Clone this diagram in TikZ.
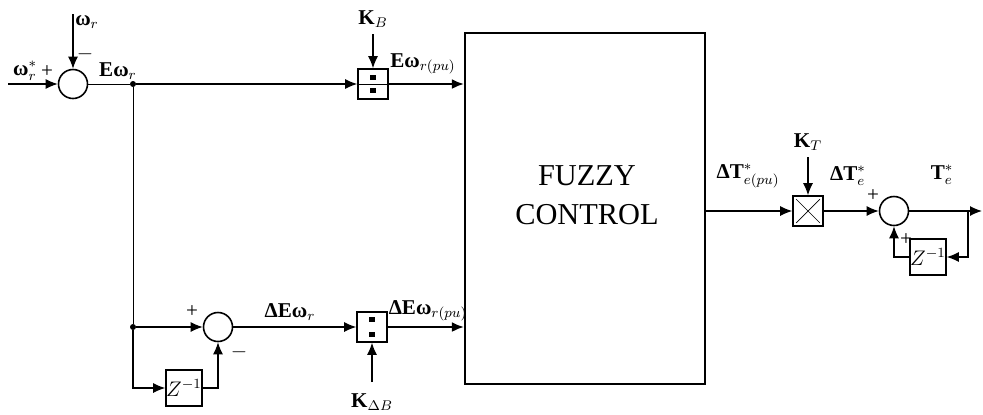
\documentclass[tikz,border=0pt]{standalone}
\usepackage{fontspec}
\setmainfont{Liberation Serif}
\usetikzlibrary{arrows.meta}

\tikzset{
  sumnode/.style={draw, circle, minimum size=0.58cm, inner sep=0pt, line width=0.9pt},
  blk/.style={draw, rectangle, inner sep=0pt, line width=0.9pt, minimum size=0.6cm},
  zblk/.style={blk, minimum width=0.72cm, minimum height=0.72cm, font=\large},
  sig/.style={-{Latex[length=2.4mm,width=2mm]}, line width=0.7pt},
  psig/.style={sig, line width=1.3pt},
  lbl/.style={font=\bfseries\large, inner sep=1pt},
  sgn/.style={font=\large, inner sep=0pt},
  dot/.style={fill, circle, inner sep=0pt, minimum size=1.2mm},
}

\begin{document}
\begin{tikzpicture}[x=0.02cm, y=-0.02cm]
  \useasboundingbox (0,0) rectangle (983,414);

  % speed error
  \node[sumnode] (s1) at (73,84) {};
  \coordinate (win) at (8,84);
  \coordinate (wtop) at (73,14);
  \node[dot] (j1) at (133,84) {};
  \node[lbl] (lwref) at (25,71) {ω$_r^*$};
  \node[lbl] (lwr) at (87,22) {ω$_r$};
  \node[lbl] (lew) at (118,71) {Eω$_r$};
  \node[sgn] (p1) at (47,72) {+};
  \node[sgn] (m1) at (85,54) {$-$};
  \draw[sig] (win) -- (s1.west);
  \draw[sig] (wtop) -- (s1.north);
  \draw (s1.east) -- (j1);

  % gain K_B
  \node[blk] (kb) at (373,84) {};
  \draw (kb.west) -- (kb.east);
  \fill (370,75) rectangle (376,80);
  \fill (370,88) rectangle (376,93);
  \node[lbl] (lkb) at (373,19) {K$_B$};
  \node[lbl] (lewpu) at (423,64) {Eω$_{r(pu)}$};
  \draw[sig] (j1) -- (kb.west);
  \draw[sig] (kb.north |- 0,34) -- (kb.north);

  % fuzzy block
  \node[draw, line width=1.2pt, minimum width=4.8cm, minimum height=7.02cm] (fz) at (585,208.5) {};
  \node[font=\LARGE, align=center] (fztxt) at (587,195) {FUZZY\\CONTROL};
  \draw[psig] (kb.east) -- (kb.east -| fz.west);

  % change of error
  \node[dot] (j2) at (133,327) {};
  \node[sumnode] (s2) at (218,327) {};
  \node[zblk] (z1) at (184,388) {$Z^{-1}$};
  \node[sgn] (p2) at (192,312) {+};
  \node[sgn] (m2) at (239,352) {$-$};
  \node[lbl] (ldew) at (290,312) {ΔEω$_r$};
  \draw (j1) -- (j2);
  \draw[sig] (j2) |- (z1.west);
  \draw[sig] (j2) -- (s2.west);
  \draw[sig] (z1.east) -| (s2.south);

  % gain K_dB
  \node[blk] (kdb) at (372,327) {};
  \fill (369,317) rectangle (375,322);
  \fill (369,332) rectangle (375,337);
  \node[lbl] (lkdb) at (372,402) {K$_{\Delta B}$};
  \node[lbl] (ldewpu) at (428,311) {ΔEω$_{r(pu)}$};
  \draw[sig] (s2.east) -- (kdb.west);
  \draw[sig] (kdb.south |- 0,382) -- (kdb.south);
  \draw[psig] (kdb.east) -- (kdb.east -| fz.west);

  % output gain K_T
  \node[blk] (kt) at (808,211) {};
  \draw ([shift={(4,4)}]kt.north west) -- ([shift={(-4,-4)}]kt.south east);
  \draw ([shift={(-4,4)}]kt.north east) -- ([shift={(4,-4)}]kt.south west);
  \node[lbl] (lkt) at (808,142) {K$_T$};
  \node[lbl] (ldtpu) at (748,176) {ΔT$^*_{e(pu)}$};
  \draw[sig] (kt.west -| fz.east) -- (kt.west);
  \draw[sig] (kt.north |- 0,157) -- (kt.north);

  % integrator
  \node[sumnode] (s3) at (894,211) {};
  \node[zblk] (z2) at (928,257) {$Z^{-1}$};
  \coordinate (j3) at (968,211);
  \coordinate (tout) at (982,211);
  \node[lbl] (ldt) at (848,176) {ΔT$_e^*$};
  \node[lbl] (lte) at (942,175) {T$_e^*$};
  \node[sgn] (p3) at (873,196) {+};
  \node[sgn] (p4) at (906,240) {+};
  \draw[sig] (kt.east) -- (s3.west);
  \draw[sig] (s3.east) -- (tout);
  \draw[sig] (j3) |- (z2.east);
  \draw[sig] (z2.west) -| (s3.south);
\end{tikzpicture}
\end{document}
